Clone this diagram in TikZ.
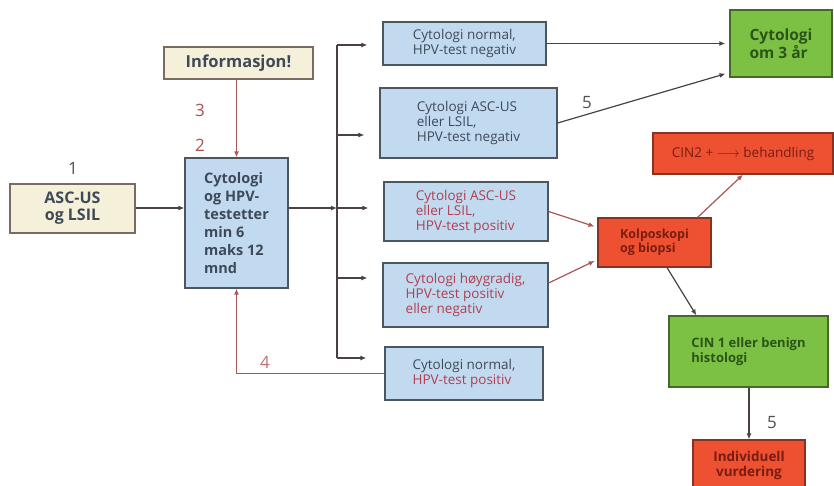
\documentclass[tikz,border=0pt]{standalone}
\usepackage{fontspec}
\setmainfont{Open Sans}
\usetikzlibrary{arrows.meta,calc}
\definecolor{cream}{HTML}{F4F0DA}
\definecolor{creamedge}{HTML}{7A6A62}
\definecolor{lblue}{HTML}{C2DAEF}
\definecolor{blueedge}{HTML}{4C5660}
\definecolor{lgreen}{HTML}{7DC144}
\definecolor{greenedge}{HTML}{46692A}
\definecolor{greentext}{HTML}{2A5418}
\definecolor{lred}{HTML}{EE5131}
\definecolor{rededge}{HTML}{8A3222}
\definecolor{redtext}{HTML}{7A1C12}
\definecolor{textdark}{HTML}{3E4A58}
\definecolor{textred}{HTML}{B23E52}
\definecolor{linedark}{HTML}{4A4242}
\definecolor{linered}{HTML}{A85656}
\definecolor{numred}{HTML}{B05050}
\definecolor{numgrey}{HTML}{555050}
\begin{document}
\begin{tikzpicture}[x=1pt,y=-1pt,
  box/.style={draw, line width=1.2pt, inner sep=0pt, anchor=center},
  creambox/.style={box, fill=cream, draw=creamedge, text=textdark},
  bluebox/.style={box, fill=lblue, draw=blueedge},
  greenbox/.style={box, fill=lgreen, draw=greenedge, text=greentext},
  redbox/.style={box, fill=lred, draw=rededge, text=redtext},
  midtext/.style={font=\fontsize{13.5}{15}\selectfont, align=left},
  conn/.style={draw=linedark, line width=1.2pt},
  connred/.style={draw=linered, line width=1.2pt},
  arr/.style={-{Latex[length=6pt,width=5pt]}},
  num/.style={font=\fontsize{17}{17}\selectfont, inner sep=0pt}
]
\useasboundingbox (0,0) rectangle (834,485);
\clip (0,0) rectangle (834,485);
\fill[white] (0,0) rectangle (834,485);

% left column
\node[creambox, minimum width=125pt, minimum height=49pt,
      font=\fontsize{16}{17}\selectfont\bfseries, align=center] (asc) at (72.5,208.5) {ASC-US\\og LSIL};
\node[creambox, minimum width=149pt, minimum height=32pt,
      font=\fontsize{16.5}{17}\selectfont\bfseries] (info) at (238.5,63) {Informasjon!};
\node[bluebox, minimum width=103pt, minimum height=130pt, text=textdark,
      font=\fontsize{14.5}{18}\selectfont\bfseries, align=left] (cyto) at (236.5,223)
      {Cytologi\\og HPV-\\testetter\\min 6\\maks 12\\mnd};

% middle column
\node[bluebox, minimum width=163pt, minimum height=43pt, midtext, text=textdark] (A) at (464.5,43.5)
      {Cytologi normal,\\HPV-test negativ};
\node[bluebox, minimum width=177pt, minimum height=70pt, midtext, text=textdark] (B) at (468.5,123)
      {Cytologi ASC-US\\eller LSIL,\\HPV-test negativ};
\node[bluebox, minimum width=164pt, minimum height=59pt, midtext, text=textred] (C) at (466,211.5)
      {Cytologi ASC-US\\eller LSIL,\\HPV-test positiv};
\node[bluebox, minimum width=165pt, minimum height=64pt, midtext, text=textred] (D) at (465.5,295)
      {Cytologi høygradig,\\HPV-test positiv\\eller negativ};
\node[bluebox, minimum width=158pt, minimum height=53pt, midtext, text=textred] (E) at (464,373.5)
      {\textcolor{textdark}{Cytologi normal,}\\HPV-test positiv};

% right column
\node[greenbox, minimum width=102pt, minimum height=67pt,
      font=\fontsize{15.5}{15}\selectfont\bfseries, align=left] (G) at (781,43.5) {Cytologi\\om 3 år};
\node[redbox, minimum width=180pt, minimum height=41pt,
      font=\fontsize{13.5}{15}\selectfont] (cin2) at (743,153.5) {CIN2 + $\longrightarrow$ behandling};
\node[redbox, minimum width=113pt, minimum height=49pt,
      font=\fontsize{12.5}{14}\selectfont\bfseries, align=left] (kolp) at (654.5,242.5) {Kolposkopi\\og biopsi};
\node[greenbox, minimum width=159pt, minimum height=71pt,
      font=\fontsize{13}{15}\selectfont\bfseries, align=left] (cin1) at (748.5,351.5) {CIN 1 eller benign\\histologi};
\node[redbox, minimum width=112pt, minimum height=50pt,
      font=\fontsize{13.5}{15}\selectfont\bfseries, align=center] (ind) at (749,465) {Individuell\\vurdering};

% numbers
\node[num, text=numgrey] (n1) at (73,168) {1};
\node[num, text=numred] (n2) at (200,145) {2};
\node[num, text=numred] (n3) at (200,110) {3};
\node[num, text=numred!80] (n4) at (265,362) {4};
\node[num, text=numgrey] (n5a) at (587,103) {5};
\node[num, text=numgrey] (n5b) at (772,423) {5};

% trunk coordinates
\coordinate (tA) at (337,45);
\coordinate (tB) at (337,135);
\coordinate (tC) at (337,208);
\coordinate (tD) at (337,278);
\coordinate (tE) at (337,358);

% connectors
\draw[conn, arr] (asc.east |- 0,208) -- (cyto.west |- 0,208);
\draw[connred, arr] (info.south -| cyto.north) -- (cyto.north);
\draw[conn, arr] (cyto.east |- tC) -- (tC);
\draw[conn] (tA) -- (tE);
\draw[conn, arr, shorten >=15pt] (tA) -- (A.west |- tA);
\draw[conn, arr, shorten >=15pt] (tB) -- (B.west |- tB);
\draw[conn, arr, shorten >=15pt] (tC) -- (C.west |- tC);
\draw[conn, arr, shorten >=15pt] (tD) -- (D.west |- tD);
\draw[conn, arr, shorten >=18pt] (tE) -- (E.west |- tE);
\draw[connred, arr] (E.west) -| (cyto.south);

\draw[conn, arr, shorten >=4pt] (A.east) -- (G.west |- A.east);
\draw[conn, arr, shorten >=4pt] (B.east) -- ([yshift=5pt]G.south west);
\draw[connred, arr, shorten >=3pt] (C.east) -- ([yshift=-10pt]kolp.north west);
\draw[connred, arr, shorten >=3pt] ([yshift=12pt]D.east) -- ([yshift=8pt]kolp.south west);
\draw[connred, arr] ([xshift=-14pt]kolp.north east) -- (cin2.south);
\draw[conn, arr] ([xshift=12.5pt]kolp.south) -- ([xshift=28pt]cin1.north west);
\draw[conn, arr] (cin1.south -| ind.north) -- (ind.north);
\end{tikzpicture}
\end{document}
